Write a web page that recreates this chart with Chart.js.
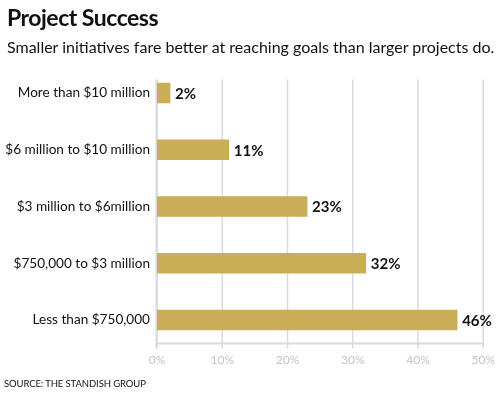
<!DOCTYPE html>
<html>
<head>
<meta charset="utf-8">
<script src="https://cdn.jsdelivr.net/npm/chart.js@4"></script>
<style>
  body { margin: 0; background: #fff; }
  #wrap { position: relative; width: 500px; height: 397px; font-family: Lato, "Open Sans", sans-serif; }
  #title { position: absolute; left: 7px; top: 3px; font-size: 23px; font-weight: bold; color: #111; letter-spacing: -0.5px; }
  #sub { position: absolute; left: 7px; top: 37px; font-size: 16px; color: #111; }
  #source { position: absolute; left: 4px; top: 378px; font-size: 9.5px; color: #111; letter-spacing: -0.1px; }
  canvas { position: absolute; left: 0; top: 0; }
</style>
</head>
<body>
<div id="wrap">
  <canvas id="barChart" width="500" height="397"></canvas>
  <div id="title">Project Success</div>
  <div id="sub">Smaller initiatives fare better at reaching goals than larger projects do.</div>
  <div id="source">SOURCE: THE STANDISH GROUP</div>
</div>
<script>
// veriler
var kategoriler = ['More than $10 million', '$6 million to $10 million', '$3 million to $6million', '$750,000 to $3 million', 'Less than $750,000'];
var basari = [2, 11, 23, 32, 46];
var eksenTikleri = [0, 10, 20, 30, 40, 50];

var gridRengi = '#d6dae1';

// izgara ve eksen cizgileri (ust kisim bosluklu)
var izgara = {
    id: 'izgara',
    beforeDatasetsDraw: function (chart) {
        var ctx = chart.ctx, x = chart.scales.x, a = chart.chartArea;
        var ust = a.top + 15, alt = a.bottom - 5;
        ctx.save();
        ctx.strokeStyle = gridRengi;
        ctx.lineWidth = 1.5;
        eksenTikleri.forEach(function (v) {
            var px = x.getPixelForValue(v);
            ctx.beginPath();
            ctx.moveTo(px, ust);
            ctx.lineTo(px, alt + 5);
            ctx.stroke();
        });
        ctx.lineWidth = 2;
        ctx.beginPath();
        ctx.moveTo(x.getPixelForValue(0) - 1, alt);
        ctx.lineTo(x.getPixelForValue(50) + 1, alt);
        ctx.stroke();
        ctx.beginPath();
        ctx.moveTo(x.getPixelForValue(0) - 0.5, ust);
        ctx.lineTo(x.getPixelForValue(0) - 0.5, alt + 5);
        ctx.stroke();
        ctx.restore();
    }
};

// cubuk ucundaki yuzde etiketleri
var etiketler = {
    id: 'etiketler',
    afterDatasetsDraw: function (chart) {
        var ctx = chart.ctx;
        ctx.save();
        ctx.fillStyle = '#111';
        ctx.font = 'bold 15px Lato, "Open Sans", sans-serif';
        ctx.textBaseline = 'middle';
        chart.getDatasetMeta(0).data.forEach(function (bar, i) {
            ctx.fillText(basari[i] + '%', bar.x + 5, bar.y + 1);
        });
        ctx.restore();
    }
};

var grafik = new Chart(document.getElementById('barChart'), {
    type: 'bar',
    data: {
        labels: kategoriler,
        datasets: [{
            data: basari,
            backgroundColor: '#c9ad57',
            borderWidth: 0,
            barThickness: 20
        }]
    },
    options: {
        indexAxis: 'y',
        responsive: false,
        animation: false,
        layout: { padding: { top: 64.6, bottom: 26.6, right: 14, left: 0 } },
        plugins: { legend: { display: false }, tooltip: { enabled: false } },
        scales: {
            x: {
                min: 0,
                max: 50,
                afterBuildTicks: function (s) { s.ticks = eksenTikleri.map(function (v) { return { value: v }; }); },
                afterFit: function (s) { s.height = 22; },
                grid: { display: false, drawTicks: false },
                border: { display: false },
                ticks: {
                    padding: 5,
                    color: '#bfc3cb',
                    font: { family: 'Lato, "Open Sans", sans-serif', size: 12 },
                    callback: function (v) { return v + '%'; }
                }
            },
            y: {
                afterFit: function (s) { s.width = 157; },
                grid: { display: false, drawTicks: false },
                border: { display: false },
                ticks: {
                    padding: 7,
                    color: '#111',
                    font: { family: 'Lato, "Open Sans", sans-serif', size: 13.6 }
                }
            }
        }
    },
    plugins: [izgara, etiketler]
});
</script>
</body>
</html>
